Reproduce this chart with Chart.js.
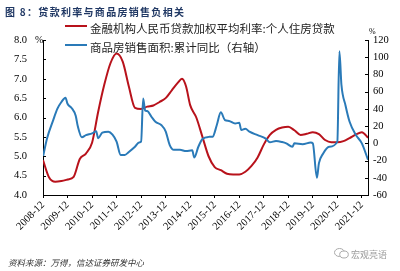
<!DOCTYPE html>
<html>
<head>
<meta charset="utf-8">
<script src="https://cdn.jsdelivr.net/npm/chart.js@4"></script>
<style>
  html, body { margin: 0; padding: 0; background: #fff; }
  #wrap { position: relative; width: 400px; height: 271px; overflow: hidden; }
  #c { position: absolute; left: 0; top: 0; }
  .txt { position: absolute; white-space: nowrap; line-height: 1; }
  #title { left: 5px; top: 4px; font: bold 10px "Noto Sans CJK SC", sans-serif; color: #203864; letter-spacing: 1.3px; }
  .leg { font: 11.5px "Noto Sans CJK SC", sans-serif; color: #222; }
  .swatch { position: absolute; height: 2px; width: 22px; }
  #src { left: 8px; top: 256px; font: italic 8.5px "Noto Sans CJK SC", sans-serif; color: #333; }
  #wm { left: 351px; top: 248px; font: 9px "Noto Sans CJK SC", sans-serif; color: #9a9a9a; }
  .unit { font: 10px "Liberation Serif", serif; color: #000; }
</style>
</head>
<body>
<div id="wrap">
  <canvas id="c" width="400" height="271"></canvas>
  <div class="txt" id="title">图 8：贷款利率与商品房销售负相关</div>
  <div class="swatch" style="left:65px; top:25px; background:#B8121B;"></div>
  <div class="txt leg" style="left:90px; top:20px;">金融机构人民币贷款加权平均利率:个人住房贷款</div>
  <div class="swatch" style="left:65px; top:44px; background:#2A7AB8;"></div>
  <div class="txt leg" style="left:90px; top:39px;">商品房销售面积:累计同比（右轴）</div>
  <div class="txt unit" style="left:35px; top:34px;">%</div>
  <div class="txt unit" style="left:369px; top:27px; font-size:8px;">%</div>
  <div class="txt" id="src">资料来源：万得，信达证券研发中心</div>
  <svg style="position:absolute; left:334px; top:248px;" width="15" height="11" viewBox="0 0 15 11">
    <ellipse cx="5.5" cy="4.5" rx="5" ry="4" fill="none" stroke="#aaa" stroke-width="1"/>
    <ellipse cx="10" cy="6.5" rx="4.3" ry="3.5" fill="#fff" stroke="#aaa" stroke-width="1"/>
  </svg>
  <div class="txt" id="wm">宏观亮语</div>
</div>
<script>
// month index: 0 = 2008-12
const xTickLabels = ['2008-12', '2009-12', '2010-12', '2011-12', '2012-12', '2013-12', '2014-12',
  '2015-12', '2016-12', '2017-12', '2018-12', '2019-12', '2020-12', '2021-12'];

// 个人住房贷款加权平均利率 (%, left axis)
const rateMonths = [0, 3, 6, 9, 12, 15, 18, 21, 24, 27, 30, 33, 36, 39, 42, 45, 48, 51, 54, 57, 60,
  63, 66, 68, 70, 72, 75, 78, 81, 84, 87, 90, 93, 96, 99, 102, 105, 108, 111, 114, 117, 120, 123,
  126, 129, 132, 135, 138, 141, 144, 147, 150, 153, 156, 159];
const rateValues = [4.9, 4.45, 4.34, 4.36, 4.4, 4.47, 4.93, 5.07, 5.35, 6.15, 6.85, 7.4, 7.65, 7.44,
  6.8, 6.25, 6.22, 6.28, 6.31, 6.4, 6.5, 6.7, 6.9, 7.0, 6.8, 6.32, 6.0, 5.5, 5.0, 4.72, 4.64, 4.55,
  4.53, 4.53, 4.6, 4.75, 4.97, 5.3, 5.55, 5.68, 5.74, 5.76, 5.67, 5.55, 5.58, 5.62, 5.57, 5.42,
  5.36, 5.36, 5.39, 5.47, 5.56, 5.62, 5.48];

// 商品房销售面积累计同比 (%, right axis)
const salesMonths = [0, 2, 5, 7, 9, 11, 12, 14, 16, 17, 19, 21, 24, 26, 27, 29, 32, 34, 36, 38, 40,
  42, 45, 47, 48, 49, 50, 51, 53, 55, 58, 60, 62, 64, 67, 70, 73, 74, 76, 78, 81, 83, 85, 87, 89,
  91, 94, 96, 97, 99, 101, 105, 109, 111, 114, 117, 119, 122, 123, 127, 131, 132, 134, 135, 137,
  140, 144, 145, 146, 148, 150, 153, 156, 159];
const salesValues = [-15.5, 6, 27, 40, 48, 53, 46, 41, 32, 20, 7, 9.5, 11.5, 14, 6, 12.5, 13.5, 10,
  2, -13.5, -13.5, -10, -4, 1, 2, 52, 38, 37.5, 31, 25, 21, 14, -2, -7.5, -7.5, -9, -8, -16.5, -4,
  5, 7.5, 7.7, 21, 36, 27, 26, 23, 24, 15.5, 17, 13.5, 9.5, 5.5, 1.2, 2.7, 1.5, 0, -4, 0, -1, 1, 0,
  -40, -23, -12, -4, 2, 107, 68, 44, 25, 10, 0, -19];

const ratePoints = rateMonths.map((m, i) => ({x: m, y: rateValues[i]}));
const salesPoints = salesMonths.map((m, i) => ({x: m, y: salesValues[i]}));

const serif = {family: 'Liberation Serif', size: 10.5};

// inward tick marks on both value axes
const innerTicks = {
  id: 'innerTicks',
  afterDraw(chart) {
    const ctx = chart.ctx;
    ctx.save();
    ctx.strokeStyle = '#000';
    ctx.lineWidth = 1;
    ['y', 'y2'].forEach(id => {
      const s = chart.scales[id];
      const x0 = id === 'y' ? s.right : s.left;
      const dir = id === 'y' ? 1 : -1;
      s.ticks.forEach(t => {
        const py = Math.round(s.getPixelForValue(t.value)) + 0.5;
        ctx.beginPath();
        ctx.moveTo(x0, py);
        ctx.lineTo(x0 + dir * 3, py);
        ctx.stroke();
      });
    });
    ctx.restore();
  }
};

new Chart(document.getElementById('c'), {
  type: 'line',
  data: {
    datasets: [
      {
        label: '金融机构人民币贷款加权平均利率:个人住房贷款',
        data: ratePoints,
        yAxisID: 'y',
        borderColor: '#B8121B',
        borderWidth: 2,
        pointRadius: 0,
        cubicInterpolationMode: 'monotone',
        fill: false,
        order: 2
      },
      {
        label: '商品房销售面积:累计同比（右轴）',
        data: salesPoints,
        yAxisID: 'y2',
        borderColor: '#2A7AB8',
        borderWidth: 2,
        pointRadius: 0,
        cubicInterpolationMode: 'monotone',
        fill: false,
        order: 1
      }
    ]
  },
  options: {
    responsive: false,
    animation: false,
    layout: {padding: {top: 40, left: 0, right: 0, bottom: 0}},
    plugins: {legend: {display: false}, tooltip: {enabled: false}},
    scales: {
      x: {
        type: 'linear',
        min: 0,
        max: 159,
        afterFit: s => { s.height = 76; },
        border: {color: '#000', width: 1},
        grid: {drawOnChartArea: false, tickLength: 3, color: '#000'},
        ticks: {
          stepSize: 12,
          includeBounds: false,
          autoSkip: false,
          maxRotation: 45,
          minRotation: 45,
          padding: 1,
          color: '#000',
          font: serif,
          callback: v => xTickLabels[v / 12]
        }
      },
      y: {
        position: 'left',
        min: 4,
        max: 8,
        afterFit: s => { s.width = 43; },
        border: {color: '#000', width: 1},
        grid: {drawOnChartArea: false, drawTicks: false},
        ticks: {stepSize: 0.5, padding: 16, color: '#000', font: serif, callback: v => v.toFixed(1)}
      },
      y2: {
        position: 'right',
        min: -60,
        max: 120,
        afterFit: s => { s.width = 32; },
        border: {color: '#000', width: 1},
        grid: {drawOnChartArea: false, drawTicks: false},
        ticks: {stepSize: 20, padding: 5, color: '#000', font: serif}
      }
    }
  },
  plugins: [innerTicks]
});
</script>
</body>
</html>
